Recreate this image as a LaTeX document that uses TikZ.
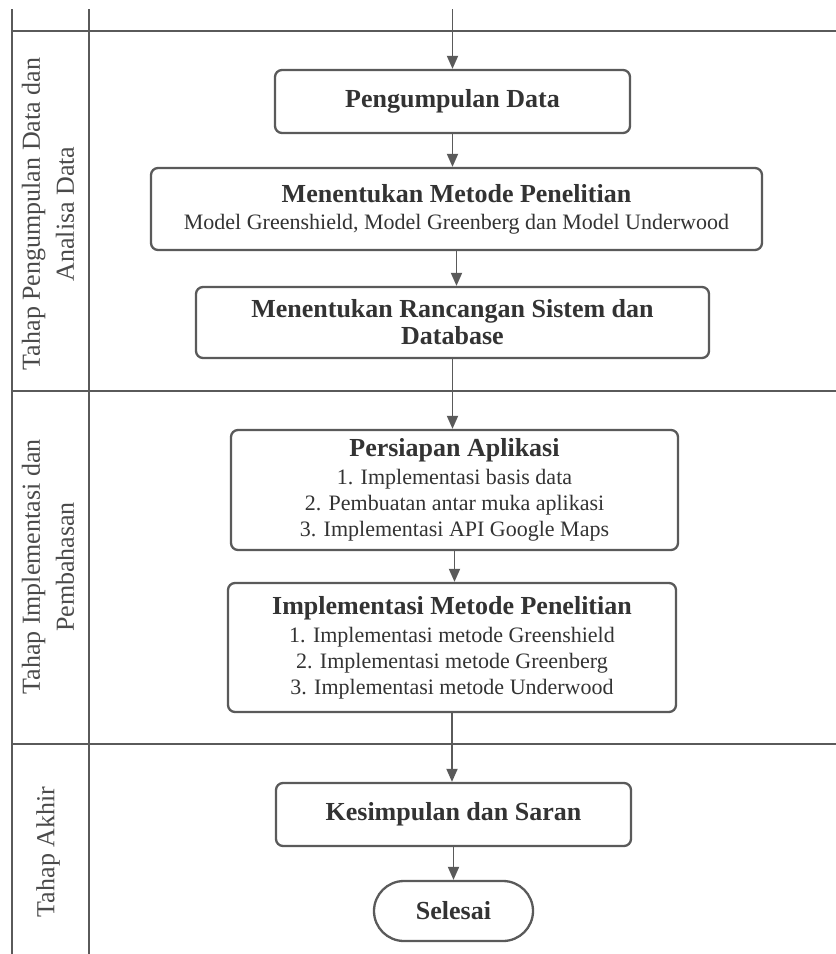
\documentclass[tikz,border=0pt]{standalone}
\usepackage{fontspec}
\setmainfont{Liberation Serif}
\usetikzlibrary{arrows.meta,shapes.misc}

\definecolor{linegray}{HTML}{5A5A5A}
\definecolor{textgray}{HTML}{333333}
\definecolor{lanetext}{HTML}{4A4A4A}

\newcommand{\ttl}[1]{{\fontsize{26}{30}\selectfont\bfseries #1}}

\begin{document}
\begin{tikzpicture}[x=1pt,y=-1pt,
  lane/.style={draw=linegray, line width=2.6pt},
  box/.style={draw=linegray, line width=2.3pt, rounded corners=7pt, fill=white,
    text=textgray, align=center, inner sep=0pt,
    font=\fontsize{22}{26}\selectfont},
  endbox/.style={rounded rectangle, draw=linegray, line width=2.3pt, fill=white,
    text=textgray, inner sep=0pt, font=\fontsize{26}{30}\selectfont\bfseries},
  lanelabel/.style={rotate=90, align=center, text=lanetext,
    font=\fontsize{26}{34}\selectfont},
  flow/.style={draw=linegray, line width=1.8pt, -{Triangle[length=13pt,width=11pt]}}
]
\useasboundingbox (0,0) rectangle (836,954);

% swimlane grid
\draw[lane] (12,9) -- (12,954);
\draw[lane] (89,9) -- (89,954);
\draw[lane] (12,31) -- (836,31);
\draw[lane] (12,391) -- (836,391);
\draw[lane] (12,744) -- (836,744);

% lane titles
\node[lanelabel] (lane1) at (48,214) {Tahap Pengumpulan Data dan\\Analisa Data};
\node[lanelabel] (lane2) at (48,567) {Tahap Implementasi dan\\Pembahasan};
\node[lanelabel] (lane3) at (48,852) {Tahap Akhir};

% process steps
\node[box, minimum width=355pt, minimum height=63pt] (b1) at (452.5,101.5)
  {\ttl{Pengumpulan Data}};
\node[box, minimum width=611pt, minimum height=82pt] (b2) at (456.5,209)
  {\ttl{Menentukan Metode Penelitian}\\[1pt]
   Model Greenshield, Model Greenberg dan Model Underwood};
\node[box, minimum width=513pt, minimum height=71pt] (b3) at (452.5,322.5)
  {\ttl{Menentukan Rancangan Sistem dan}\\[1pt]\ttl{Database}};
\node[box, minimum width=447pt, minimum height=120pt] (b4) at (454.5,490)
  {\ttl{Persiapan Aplikasi}\\[2pt]
   1. Implementasi basis data\\
   2. Pembuatan antar muka aplikasi\\
   3. Implementasi API Google Maps};
\node[box, minimum width=448pt, minimum height=129pt] (b5) at (452,647.5)
  {\ttl{Implementasi Metode Penelitian}\\[2pt]
   1. Implementasi metode Greenshield\\
   2. Implementasi metode Greenberg\\
   3. Implementasi metode Underwood};
\node[box, minimum width=355pt, minimum height=63pt] (b6) at (453.5,814.5)
  {\ttl{Kesimpulan dan Saran}};
\node[endbox, minimum width=159pt, minimum height=60pt] (b7) at (453.5,911)
  {Selesai};

% connectors
\coordinate (start) at (452.5,9);
\draw[flow] (start) -- (b1.north);
\draw[flow] (b1.south) -- (b1.south |- b2.north);
\draw[flow] (b2.south) -- (b2.south |- b3.north);
\draw[flow] (b3.south) -- (b3.south |- b4.north);
\draw[flow] (b4.south) -- (b4.south |- b5.north);
\draw[flow] (b5.south) -- (b5.south |- b6.north);
\draw[flow] (b6.south) -- (b6.south |- b7.north);
\end{tikzpicture}
\end{document}
